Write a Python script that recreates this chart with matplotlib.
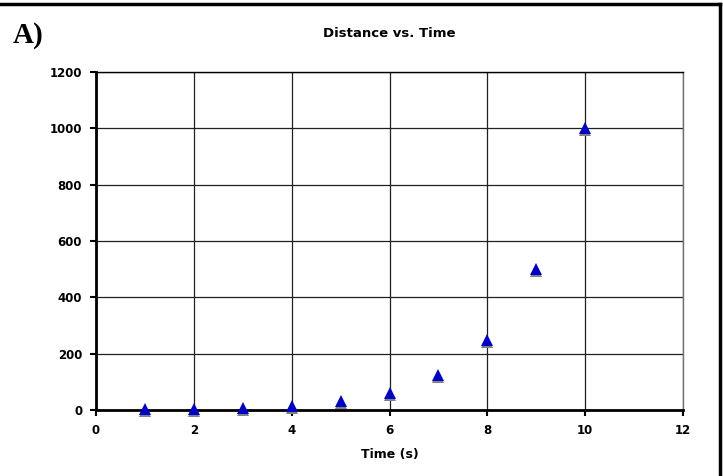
import matplotlib
matplotlib.use('Agg')
import matplotlib.pyplot as plt
import matplotlib.transforms as mtransforms
from matplotlib.lines import Line2D

# data
time_s = [1, 2, 3, 4, 5, 6, 7, 8, 9, 10]
distance = [2, 4, 8, 15, 31, 62, 125, 250, 500, 1000]
x_ticks = [0, 2, 4, 6, 8, 10, 12]
y_ticks = [0, 200, 400, 600, 800, 1000, 1200]

fig = plt.figure(figsize=(7.23, 4.76), dpi=100)
ax = fig.add_axes([0.1328, 0.1387, 0.8119, 0.710])

# gray shadow under each triangle, then the blue triangle
shadow = ax.transData + mtransforms.ScaledTranslation(0, -1.5 / 72, fig.dpi_scale_trans)
ax.plot(time_s, distance, linestyle='none', marker='^', markersize=8,
        color='#808080', markeredgewidth=0, transform=shadow, clip_on=False, zorder=4)
ax.plot(time_s, distance, linestyle='none', marker='^', markersize=8,
        color='#0000cc', markeredgewidth=0, clip_on=False, zorder=5)

ax.set_xlim(0, 12)
ax.set_ylim(0, 1200)
ax.set_xticks(x_ticks)
ax.set_yticks(y_ticks)
ax.grid(True, color='#202020', linewidth=0.9)
ax.set_axisbelow(True)

for s in ['left', 'bottom']:
    ax.spines[s].set_linewidth(2)
    ax.spines[s].set_color('black')
ax.spines['top'].set_linewidth(1)
ax.spines['right'].set_linewidth(1)
ax.spines['right'].set_color('#707070')

ax.tick_params(direction='out', length=4, width=1.5, labelsize=8.5, pad=6)
for lab in ax.get_xticklabels() + ax.get_yticklabels():
    lab.set_fontweight('bold')

ax.set_xlabel('Time (s)', fontsize=9, fontweight='bold', labelpad=8)
fig.text(0.5 * (0.1328 * 2 + 0.8119), 0.93, 'Distance vs. Time', ha='center', va='center',
         fontsize=9.5, fontweight='bold')
fig.text(0.018, 0.925, 'A)', ha='left', va='center', fontsize=21, fontweight='bold',
         family='Liberation Serif')

# frame pieces (top and right edges)
fig.add_artist(Line2D([0, 0.9955], [0.9906, 0.9906], color='black', linewidth=2.5, transform=fig.transFigure))
fig.add_artist(Line2D([0.9955, 0.9955], [0, 0.9906], color='black', linewidth=2.5, transform=fig.transFigure))

fig.savefig('out.png', dpi=100)
